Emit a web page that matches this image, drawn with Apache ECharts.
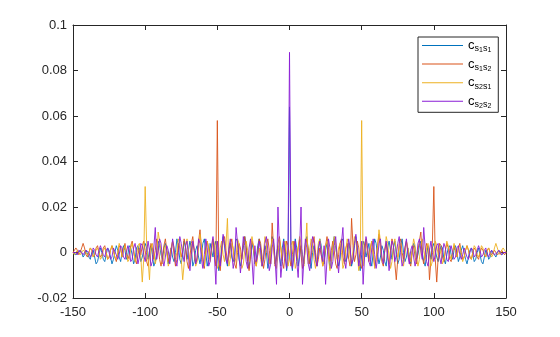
<!DOCTYPE html>
<html>
<head>
<meta charset="utf-8">
<script src="https://cdn.jsdelivr.net/npm/echarts@6/dist/echarts.min.js"></script>
<style>
  html, body { margin: 0; padding: 0; background: #fff; }
  #chart { width: 560px; height: 337px; }
</style>
</head>
<body>
<div id="chart"></div>
<script>
// Correlation functions c_xy(k) for lags k = -150 .. 150, values in units of 1e-3.
const lags = [];
for (let k = -150; k <= 150; k++) lags.push(k);

const cs1s1Milli = [
  0,
  0, -1, -1, 0, 1, 0, -2, -1, 1, 1,
  -2, -3, 0, 1, -2, -5, -4, -1, 2, 0,
  -3, -4, -1, 2, 1, -2, -5, -3, 0, 3,
  1, -2, -4, 0, 3, 1, -3, -1, 3, 2,
  -1, -5, -3, 2, 3, 0, -4, -2, 1, 4,
  2, -3, 1, 3, -1, -6, -4, 0, 5, 3,
  -1, -3, 2, 4, 1, -5, -1, 2, -2, -4,
  0, 6, 3, -3, -5, -1, 5, 2, -3, 1,
  5, 2, -6, -4, 1, 3, -2, -5, -1, 4,
  6, 0, -6, -3, 4, 1, -2, 3, 5, -1,
  -8, -5, 2, 7, 3, -3, -6, 1, 4, -2,
  -4, -1, 6, 5, -3, -6, -2, 2, 7, 3,
  -4, -7, -1, 4, 1, -5, -3, 3, 6, 2,
  -6, -2, 3, 0, -7, -4, 1, 7, 4, -5,
  -1, 3, -2, -6, 2, 6, 1, -8, -3,
  64,
  -3, -8, 1, 6, 2, -6, -2, 3, -1,
  -5, 4, 7, 1, -4, -7, 0, 3, -2, -6,
  2, 6, 3, -3, -5, 1, 4, -1, -7, -4,
  3, 7, 2, -2, -6, -3, 5, 6, -1, -4,
  -2, 4, 1, -6, -3, 3, 7, 2, -5, -8,
  -1, 5, 3, -2, 1, 4, -3, -6, 0, 6,
  4, -1, -5, -2, 3, 1, -4, -6, 2, 5,
  1, -3, 2, 5, -1, -5, -3, 3, 6, 0,
  -4, -2, 2, -1, -5, 1, 4, 2, -3, -1,
  3, 5, 0, -4, -6, -1, 3, 1, -3, 2,
  4, 1, -2, -4, 0, 3, 2, -3, -5, -1,
  2, 3, -1, -3, 1, 3, 0, -4, -2, 1,
  3, 0, -3, -5, -2, 1, 2, -1, -4, -3,
  0, 2, -1, -4, -5, -2, 1, 0, -3, -2,
  1, 1, -1, -2, 0, 1, 0, -1, -1, 0,
  0
];

const cs1s2Milli = [
  0, 1, 2, 1, -1, 0, 2, 4, 2, -1,
  -2, 0, 2, 1, -2, -1, 2, 3, 0, -2,
  -1, 2, 3, 0, -3, -2, 1, 3, 1, -2,
  -4, -1, 3, 2, -2, 1, 4, 0, -3, -1,
  3, 5, 1, -3, -5, -1, 2, -1, 3, 5,
  1, -4, -6, -1, 4, 2, -3, 1, 6, 3,
  -3, -6, -2, 3, 6, 1, -4, -2, 2, 5,
  -1, -6, -3, 4, 2, -2, 1, 6, 3, -4,
  -7, -2, 4, 7, 1, -5, -3, 5, 10, 2,
  -4, -7, 1, 5, 2, -3, 2, 6, -1, -6,
  58, -4, -8, -1, 5, 7, 1, -4, -2, 3,
  6, 1, -5, -7, 0, 4, 2, -3, 4, 7,
  2, -4, -8, -2, 5, 3, -3, -6, 1, 6,
  4, -2, -7, -3, 3, 6, 1, -5, 13, 2,
  -6, -3, 4, 7, 2, -4, -7, 0, 5, 3,
  -2, -6, -1, 5, 3, -3, 2, 6, -1, -7,
  -4, 3, 6, 1, -5, -2, 4, 7, 0, -6,
  -3, 2, -1, -6, -4, 3, 7, 2, -4, 1,
  5, 1, -5, -7, -1, 4, 6, -2, -5, 2,
  4, -3, -6, 15, 3, -4, -1, 5, 2, -5,
  -7, -2, 4, 6, 0, -4, 2, 5, -1, -6,
  -3, 3, 8, 2, -4, -6, 1, 4, -2, -5,
  1, 6, 3, -5, -12, -3, 4, 6, 0, -3,
  2, 5, 1, -4, -6, 0, 3, -2, -5, 1,
  5, 9, -2, -5, 0, 4, 2, -12, -3, 4,
  29, -3, -13, -2, 4, 3, -2, -4, 1, 4,
  2, -3, -4, 0, 3, 1, -2, 2, 4, 0,
  -3, -2, 1, 3, 1, -2, -3, 0, 2, 1,
  -2, -3, 0, 2, 1, -1, -2, 1, 2, 0,
  -1, 0, 1, 1, -1, -1, 0, 1, 0, -1,
  0
];

const cs2s1Milli = [
  0,
  -1, 0, 1, 0, -1, -1, 1, 1, 0, -1,
  0, 2, 1, -2, -1, 1, 2, 0, -3, -2,
  1, 2, 0, -3, -2, 1, 3, 1, -2, -3,
  0, 4, 2, -2, 1, 3, 0, -4, -3, 2,
  4, 1, -4, -2, 3, 4, -2, -13, -3, 29,
  4, -3, -12, 2, 4, 0, -5, -2, 9, 5,
  1, -5, -2, 3, 0, -6, -4, 1, 5, 2,
  -3, 0, 6, 4, -3, -12, -5, 3, 6, 1,
  -5, -2, 4, 1, -6, -4, 2, 8, 3, -3,
  -6, -1, 5, 2, -4, 0, 6, 4, -2, -7,
  -5, 2, 5, -1, -4, 3, 15, -6, -3, 4,
  2, -5, -2, 6, 4, -1, -7, -5, 1, 5,
  1, -4, 2, 7, 3, -4, -6, -1, 2, -3,
  -6, 0, 7, 4, -2, -5, 1, 6, 3, -4,
  -7, -1, 6, 2, -3, 3, 5, -1, -6, -2,
  3, 5, 0, -7, -4, 2, 7, 4, -3, -6,
  2, 13, -5, 1, 6, 3, -3, -7, -2, 4,
  6, 1, -6, -3, 3, 5, -2, -8, -4, 2,
  7, 4, -3, 2, 4, 0, -7, -5, 1, 6,
  3, -2, -4, 1, 7, 5, -1, -8, -4, 58,
  -6, -1, 6, 2, -3, 2, 5, 1, -7, -4,
  2, 10, 5, -3, -5, 1, 7, 4, -2, -7,
  -4, 3, 6, 1, -2, 2, 4, -3, -6, -1,
  5, 2, -2, -4, 1, 6, 3, -2, -6, -3,
  3, 6, 1, -3, 2, 4, -1, -6, -4, 1,
  5, 3, -1, 2, -1, -5, -3, 1, 5, 3,
  -1, -3, 0, 4, 1, -2, 2, 3, -1, -4,
  -2, 1, 3, 1, -2, -3, 0, 3, 2, -1,
  -2, 0, 3, 2, -1, -2, 1, 2, 0, -2,
  -1, 2, 4, 2, 0, -1, 1, 2, 1, 0
];

const cs2s2Milli = [
  0,
  0, 0, -1, 1, 1, 0, -1, -1, 1, 1,
  0, -2, -1, 2, 1, -1, -2, 1, 3, 1,
  -1, -2, 1, 2, 0, -3, -2, 2, 2, -1,
  -3, -1, 3, 2, -2, -3, 0, 3, 1, -4,
  -3, 2, 4, 0, -5, -2, 4, 3, -1, -4,
  0, 5, 1, -6, -4, 2, 11, -3, 1, 6,
  4, -3, -6, -2, 3, 1, -5, -1, 6, 2,
  -4, -6, 0, 7, 4, -1, -4, 3, 5, -2,
  -8, -1, 5, 1, -5, -2, 6, 4, -3, -7,
  -1, 6, 2, -6, -4, 3, 7, -2, -14, 5,
  -2, -6, 1, 8, 4, -3, -5, 2, 6, 0,
  -7, -3, 11, 4, -1, -9, -2, 7, 3, -4,
  -7, 2, 6, -3, -14, 3, -4, -1, 5, 1,
  -6, -3, 4, 7, 1, -8, -5, 2, 6, -3,
  -14, 20, 2, -11, -4, 5, -2, -7, 3,
  88,
  3, -7, -2, 5, -4, -11, 2, 20, -14,
  -3, 6, 2, -5, -8, 1, 7, 4, -3, -6,
  1, 5, -1, -4, 3, -14, -3, 6, 2, -7,
  -4, 3, 7, -2, -9, -1, 4, 11, -3, -7,
  0, 6, 2, -5, -3, 4, 8, 1, -6, -2,
  5, -14, -2, 7, 3, -4, -6, 2, 6, -1,
  -7, -3, 4, 6, -2, -5, 1, 5, -1, -8,
  -2, 5, 3, -4, -1, 4, 7, 0, -6, -4,
  2, 6, -1, -5, 1, 3, -2, -6, -3, 4,
  6, 1, -3, 11, 2, -4, -6, 1, 5, 0,
  -4, -1, 3, 4, -2, -5, 0, 4, 2, -3,
  -4, 1, 3, 0, -3, -2, 2, 3, -1, -3,
  -1, 2, 2, -2, -3, 0, 2, 1, -2, -1,
  1, 3, 1, -2, -1, 1, 2, -1, -2, 0,
  1, 1, -1, -1, 0, 1, 1, -1, 0, 0,
  0
];

const seriesNames = ['s1s1', 's1s2', 's2s1', 's2s2'];
const seriesColors = ['#0072BD', '#D95319', '#EDB120', '#8A1CD6'];
const seriesValues = [cs1s1Milli, cs1s2Milli, cs2s1Milli, cs2s2Milli];

const xTickLabels = ['-150', '-100', '-50', '0', '50', '100', '150'];
const yTickLabels = ['-0.02', '0', '0.02', '0.04', '0.06', '0.08', '0.1'];

const axisColor = '#262626';
const font = 'Liberation Sans, Arial, Helvetica, sans-serif';

function toPoints(values) {
  return values.map((v, i) => [lags[i], v / 1000]);
}

const chart = echarts.init(document.getElementById('chart'), null, { renderer: 'canvas' });

const frameAxis = (extra) => Object.assign({
  type: 'value',
  axisLine: { show: true, onZero: false, lineStyle: { color: axisColor, width: 1 } },
  axisTick: { show: true, inside: true, length: 5, lineStyle: { color: axisColor, width: 1 } },
  splitLine: { show: false },
}, extra);

chart.setOption({
  animation: false,
  backgroundColor: '#ffffff',
  grid: { left: 73, right: 54, top: 25, bottom: 39, containLabel: false },
  xAxis: [
    frameAxis({
      min: -150, max: 150, interval: 50, position: 'bottom',
      axisLabel: {
        color: axisColor, fontSize: 13, fontFamily: font, margin: 8,
        formatter: (v) => xTickLabels[Math.round((v + 150) / 50)]
      }
    }),
    frameAxis({
      min: -150, max: 150, interval: 50, position: 'top',
      axisLabel: { show: false }
    })
  ],
  yAxis: [
    frameAxis({
      min: -0.02, max: 0.1, interval: 0.02, position: 'left',
      axisLabel: {
        color: axisColor, fontSize: 13, fontFamily: font, margin: 6,
        formatter: (v) => yTickLabels[Math.round((v + 0.02) / 0.02)]
      }
    }),
    frameAxis({
      min: -0.02, max: 0.1, interval: 0.02, position: 'right',
      axisLabel: { show: false }
    })
  ],
  legend: {
    show: true,
    orient: 'vertical',
    left: 418,
    top: 37,
    padding: [2, 7, 3, 4],
    icon: 'rect',
    itemWidth: 41,
    itemHeight: 1,
    itemGap: 4.1,
    backgroundColor: '#ffffff',
    borderColor: axisColor,
    borderWidth: 1,
    borderRadius: 0,
    data: seriesNames,
    formatter: (name) => '{c|c}{s|s}{n|' + name[1] + '}{s|s}{n|' + name[3] + '}',
    textStyle: {
      color: '#000',
      fontFamily: font,
      rich: {
        c: { fontSize: 13, lineHeight: 16, verticalAlign: 'middle', fontFamily: font, color: '#000' },
        s: { fontSize: 9, lineHeight: 10.4, verticalAlign: 'bottom', fontFamily: font, color: '#000' },
        n: { fontSize: 7, lineHeight: 8, verticalAlign: 'bottom', fontFamily: font, color: '#000' }
      }
    }
  },
  series: seriesNames.map((name, i) => ({
    name: name,
    type: 'line',
    xAxisIndex: 0,
    yAxisIndex: 0,
    data: toPoints(seriesValues[i]),
    symbol: 'none',
    showSymbol: false,
    color: seriesColors[i],
    lineStyle: { color: seriesColors[i], width: 0.9 },
    z: 2 + i
  }))
});
</script>
</body>
</html>
